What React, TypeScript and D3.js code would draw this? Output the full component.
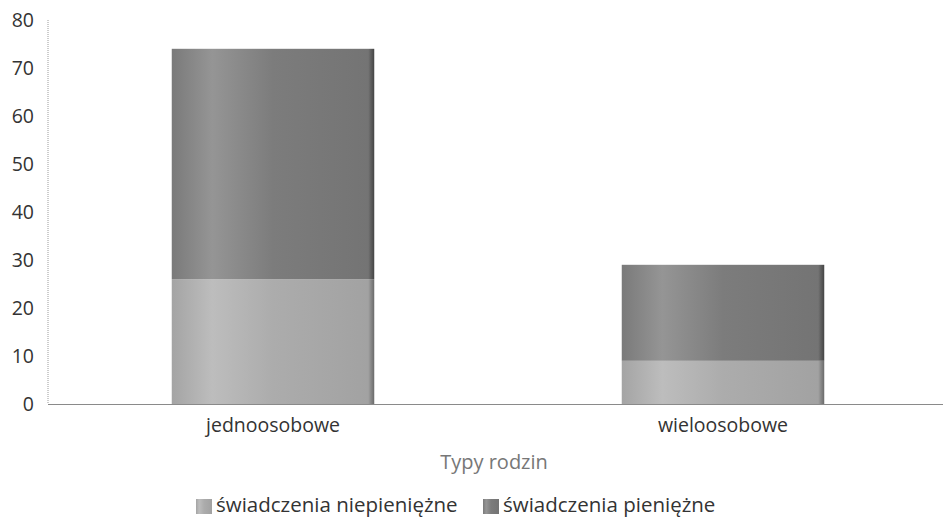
import React from "react";
import * as d3 from "d3";

const categories = ["jednoosobowe", "wieloosobowe"];
const seriesNames = ["świadczenia niepieniężne", "świadczenia pieniężne"];
const niepieniezne = [26, 9];
const pieniezne = [48, 20];
const yTicks = [0, 10, 20, 30, 40, 50, 60, 70, 80];
const xTitle = "Typy rodzin";

const W = 943;
const H = 524;
const FONT = "'Open Sans', 'Noto Sans', sans-serif";

export default function App() {
  const left = 48;
  const right = 948;
  const top = 20;
  const bottom = 404;

  const x = d3.scaleBand<string>().domain(categories).range([left, right]).paddingInner(0.55).paddingOuter(0.275);
  const y = d3.scaleLinear().domain([0, 80]).range([bottom, top]);

  const rows = categories.map((c, i) => ({ cat: c, a: niepieniezne[i], b: pieniezne[i] }));
  const stack = d3.stack<any>().keys(["a", "b"])(rows);

  const gradIds = ["gLight", "gDark"];

  return (
    <svg width={W} height={H} style={{ position: "absolute", left: 0, top: 0, background: "#fff" }} fontFamily={FONT}>
      <defs>
        <linearGradient id="gLight" x1="0" x2="1" y1="0" y2="0">
          <stop offset="0" stopColor="#a4a4a4" />
          <stop offset="0.2" stopColor="#bdbdbd" />
          <stop offset="0.5" stopColor="#acacac" />
          <stop offset="0.97" stopColor="#a2a2a2" />
          <stop offset="1" stopColor="#6a6a6a" />
        </linearGradient>
        <linearGradient id="gDark" x1="0" x2="1" y1="0" y2="0">
          <stop offset="0" stopColor="#7a7a7a" />
          <stop offset="0.2" stopColor="#959595" />
          <stop offset="0.5" stopColor="#7c7c7c" />
          <stop offset="0.97" stopColor="#747474" />
          <stop offset="1" stopColor="#444" />
        </linearGradient>
      </defs>

      {/* y axis */}
      <line x1={left} x2={left} y1={top} y2={bottom} stroke="#9a9a9a" strokeWidth={1} strokeDasharray="1 1" />
      {yTicks.map((t) => (
        <text key={t} x={34} y={y(t)} dy="0.36em" textAnchor="end" fontSize={19.5} fill="#333">
          {t}
        </text>
      ))}

      {/* bars */}
      {stack.map((s, si) =>
        s.map((d, i) => (
          <rect
            key={si + "-" + i}
            x={x(categories[i])}
            width={x.bandwidth()}
            y={y(d[1])}
            height={y(d[0]) - y(d[1])}
            fill={`url(#${gradIds[si]})`}
          />
        ))
      )}

      {/* baseline */}
      <line x1={left} x2={W} y1={bottom + 0.5} y2={bottom + 0.5} stroke="#8a8a8a" strokeWidth={1} />

      {/* x labels */}
      {categories.map((c) => (
        <text key={c} x={(x(c) as number) + x.bandwidth() / 2} y={425} dy="0.36em" textAnchor="middle" fontSize={19.5} fill="#333">
          {c}
        </text>
      ))}

      <text x={494} y={469} textAnchor="middle" fontSize={20} fill="#777">
        {xTitle}
      </text>

      {/* legend */}
      {seriesNames.map((n, i) => {
        const lx = [196, 483][i];
        return (
          <g key={n}>
            <rect x={lx} y={499} width={16} height={15} fill={`url(#${gradIds[i]})`} />
            <text x={lx + 20} y={512} fontSize={20.5} fill="#333">
              {n}
            </text>
          </g>
        );
      })}
    </svg>
  );
}
